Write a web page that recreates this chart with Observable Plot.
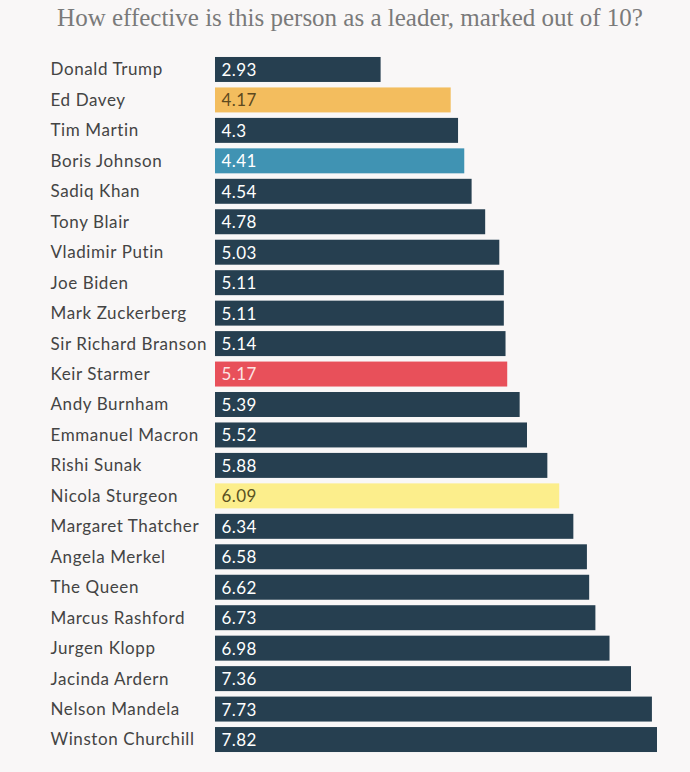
<!DOCTYPE html>
<html>
<head>
<meta charset="utf-8">
<script src="https://cdn.jsdelivr.net/npm/d3@7"></script>
<script src="https://cdn.jsdelivr.net/npm/@observablehq/plot@0.6"></script>
<style>
  html, body { margin: 0; padding: 0; background: #f9f7f7; }
  #wrap { width: 690px; height: 772px; position: relative; overflow: hidden; }
  #title { position: absolute; left: 0; top: 0; width: 690px; height: 40px; line-height: 36px; text-align: center; font-family: "Liberation Serif", serif; font-size: 25px; color: #7a7a7a; padding-left: 10px; box-sizing: border-box; }
  svg { display: block; }
  svg g[aria-label="y-axis tick label"] { letter-spacing: 0.6px; }
  svg g[aria-label="text"] { letter-spacing: 0.4px; }
</style>
</head>
<body>
<div id="wrap">
  <div id="chart"></div>
  <div id="title">How effective is this person as a leader, marked out of 10?</div>
</div>
<script>
const names = ["Donald Trump","Ed Davey","Tim Martin","Boris Johnson","Sadiq Khan","Tony Blair","Vladimir Putin","Joe Biden","Mark Zuckerberg","Sir Richard Branson","Keir Starmer","Andy Burnham","Emmanuel Macron","Rishi Sunak","Nicola Sturgeon","Margaret Thatcher","Angela Merkel","The Queen","Marcus Rashford","Jurgen Klopp","Jacinda Ardern","Nelson Mandela","Winston Churchill"];
const scores = [2.93,4.17,4.3,4.41,4.54,4.78,5.03,5.11,5.11,5.14,5.17,5.39,5.52,5.88,6.09,6.34,6.58,6.62,6.73,6.98,7.36,7.73,7.82];
const labels = ["2.93","4.17","4.3","4.41","4.54","4.78","5.03","5.11","5.11","5.14","5.17","5.39","5.52","5.88","6.09","6.34","6.58","6.62","6.73","6.98","7.36","7.73","7.82"];
const barColors = {"Ed Davey":"#f3bd5e","Boris Johnson":"#4093b3","Keir Starmer":"#e8505a","Nicola Sturgeon":"#fcee8c"};
const textColors = {"Ed Davey":"#5e4a1e","Nicola Sturgeon":"#5a5222","Keir Starmer":"#fde3e3"};
const defaultBar = "#263f50";

const data = names.map((n, i) => ({name: n, score: scores[i], label: labels[i]}));

const chart = Plot.plot({
  width: 690,
  height: 772,
  marginLeft: 215,
  marginRight: 33,
  marginTop: 51.5,
  marginBottom: 14.5,
  style: {background: "transparent", fontFamily: "Lato, sans-serif"},
  x: {domain: [0, 7.82], axis: null},
  y: {domain: names, padding: 0.18, round: false, label: null},
  marks: [
    Plot.barX(data, {y: "name", x: "score", fill: d => barColors[d.name] || defaultBar}),
    Plot.axisY({tickSize: 0, tickPadding: 0, textAnchor: "start", dx: -165, fontSize: 17, fill: "#444", label: null}),
    Plot.text(data, {y: "name", x: 0, text: "label", textAnchor: "start", dx: 6, dy: 0.5, fontSize: 17, fill: d => textColors[d.name] || "#ffffff"})
  ]
});
document.getElementById("chart").appendChild(chart);
</script>
</body>
</html>
